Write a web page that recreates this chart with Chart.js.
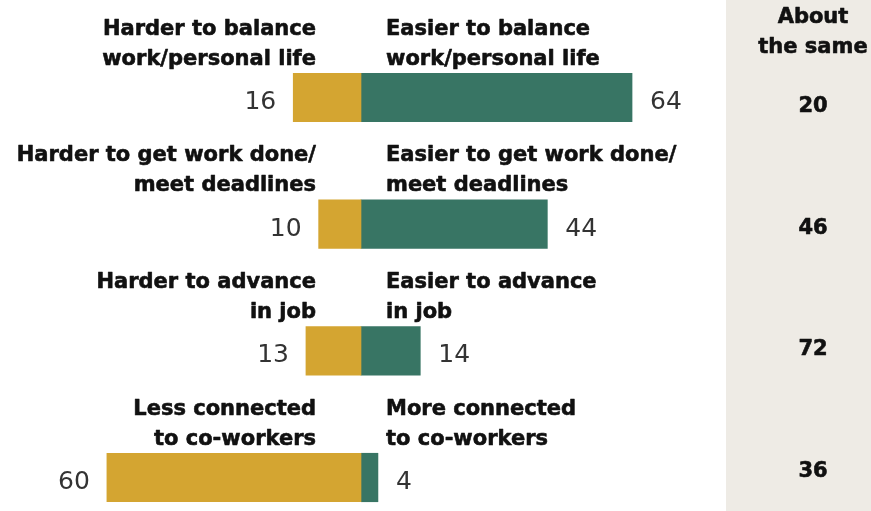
<!DOCTYPE html>
<html>
<head>
<meta charset="utf-8">
<script src="https://cdn.jsdelivr.net/npm/chart.js@4.4.1/dist/chart.umd.min.js"></script>
<style>
  html, body { margin: 0; padding: 0; background: #ffffff; }
  #wrap { width: 871px; height: 511px; position: relative; }
</style>
</head>
<body>
<div id="wrap"><canvas id="chart"></canvas></div>
<script>
// Survey items, one row each
const categories = [
  'Work/personal life balance',
  'Getting work done/meeting deadlines',
  'Advancing in job',
  'Connection to co-workers'
];
const harderLabels = [
  ['Harder to balance', 'work/personal life'],
  ['Harder to get work done/', 'meet deadlines'],
  ['Harder to advance', 'in job'],
  ['Less connected', 'to co-workers']
];
const easierLabels = [
  ['Easier to balance', 'work/personal life'],
  ['Easier to get work done/', 'meet deadlines'],
  ['Easier to advance', 'in job'],
  ['More connected', 'to co-workers']
];
const harderValues = [16, 10, 13, 60];
const easierValues = [64, 44, 14, 4];
const sameValues = [20, 46, 72, 36];
const sameHeader = ['About', 'the same'];

// Layout
const W = 871, H = 511;
const ZERO_X = 361;        // where the diverging bars meet
const PX_PER_UNIT = 4.235; // horizontal scale
const PANEL_X = 726;       // left edge of the "About the same" column
const PANEL_CENTER = 813;

const GOLD = '#D4A531';
const GREEN = '#387564';
const PANEL_BG = '#EEEBE5';
const INK = '#111111';
const BOLD_FONT = 'bold 21px "DejaVu Sans"';
const VALUE_FONT = '25px "DejaVu Sans"';

// heavy caption text: fill plus a hairline stroke in the same ink
function heavyText(ctx, text, x, y) {
  ctx.fillText(text, x, y);
  ctx.strokeText(text, x, y);
}

const rowLabels = {
  id: 'rowLabels',
  beforeDraw(chart) {
    const ctx = chart.ctx;
    ctx.save();
    ctx.fillStyle = PANEL_BG;
    ctx.fillRect(PANEL_X, 0, W - PANEL_X, H);
    ctx.restore();
  },
  afterDatasetsDraw(chart) {
    const ctx = chart.ctx;
    const xs = chart.scales.x, ys = chart.scales.y;
    const x0 = xs.getPixelForValue(0);
    ctx.save();
    ctx.textBaseline = 'alphabetic';
    ctx.lineJoin = 'round';

    categories.forEach((cat, i) => {
      const yc = ys.getPixelForValue(i);

      // two-line captions above each bar
      ctx.font = BOLD_FONT;
      ctx.fillStyle = INK;
      ctx.strokeStyle = INK;
      ctx.lineWidth = 0.6;
      ctx.textAlign = 'right';
      harderLabels[i].forEach((line, k) => heavyText(ctx, line, x0 - 45, yc - 63 + k * 30));
      ctx.textAlign = 'left';
      easierLabels[i].forEach((line, k) => heavyText(ctx, line, x0 + 25, yc - 63 + k * 30));

      // values at the bar ends
      ctx.font = VALUE_FONT;
      ctx.fillStyle = '#333333';
      ctx.textAlign = 'right';
      ctx.fillText(String(harderValues[i]), xs.getPixelForValue(-harderValues[i]) - 17, yc + 11.5);
      ctx.textAlign = 'left';
      ctx.fillText(String(easierValues[i]), xs.getPixelForValue(easierValues[i]) + 18, yc + 11.5);
    });

    // "About the same" column
    ctx.font = BOLD_FONT;
    ctx.fillStyle = INK;
    ctx.strokeStyle = INK;
    ctx.lineWidth = 0.6;
    ctx.textAlign = 'center';
    sameHeader.forEach((line, k) => heavyText(ctx, line, PANEL_CENTER, 23 + k * 30));
    const n = sameValues.length;
    const first = ys.getPixelForValue(0) + 14.5;
    const last = ys.getPixelForValue(n - 1) - 0.5;
    sameValues.forEach((v, i) => {
      const y = first + (last - first) * i / (n - 1);
      heavyText(ctx, String(v), PANEL_CENTER, y);
    });
    ctx.restore();
  }
};

new Chart(document.getElementById('chart'), {
  type: 'bar',
  data: {
    labels: categories,
    datasets: [
      {
        label: 'Harder',
        data: harderValues.map(v => -v),
        backgroundColor: GOLD,
        borderWidth: 0,
        barThickness: 48.5,
        clip: false
      },
      {
        label: 'Easier',
        data: easierValues,
        backgroundColor: GREEN,
        borderWidth: 0,
        barThickness: 48.5,
        clip: false
      }
    ]
  },
  options: {
    indexAxis: 'y',
    responsive: true,
    maintainAspectRatio: false,
    animation: false,
    layout: { padding: { top: 97.5, bottom: 33.5, left: 0, right: 0 } },
    plugins: { legend: { display: false }, tooltip: { enabled: false } },
    scales: {
      x: {
        type: 'linear',
        stacked: true,
        min: -ZERO_X / PX_PER_UNIT,
        max: (W - ZERO_X) / PX_PER_UNIT,
        display: false
      },
      y: {
        type: 'category',
        stacked: true,
        offset: false,
        display: false
      }
    }
  },
  plugins: [rowLabels]
});
</script>
</body>
</html>
